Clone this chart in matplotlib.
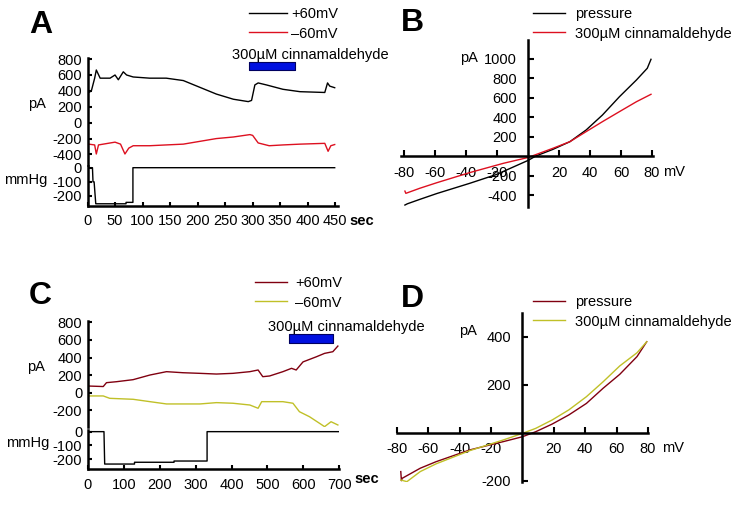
import matplotlib
matplotlib.use('Agg')
import matplotlib.pyplot as plt

plt.rcParams['font.family'] = ['Liberation Sans', 'DejaVu Sans']
plt.rcParams['font.size'] = 10.5
plt.rcParams['axes.unicode_minus'] = False

# --------------------------------------------------
# DATA
# --------------------------------------------------

# A: time course, +60 / -60 mV currents (pA) and pressure (mmHg)
a_t_pos = [0, 7, 13, 16, 23, 41, 50, 56, 65, 71, 83, 113, 143, 174, 204, 234,
           265, 292, 298, 304, 310, 325, 355, 386, 431, 436, 440, 449]
a_pos = [370, 400, 560, 663, 560, 560, 600, 540, 640, 600, 575, 560, 560, 530,
         445, 360, 295, 265, 280, 475, 500, 475, 420, 390, 380, 500, 460, 440]
a_t_neg = [0, 13, 16, 20, 50, 60, 68, 75, 83, 113, 143, 174, 204, 234, 265,
           295, 300, 310, 330, 355, 386, 431, 437, 442, 449]
a_neg = [-268, -280, -394, -280, -245, -270, -394, -320, -290, -290, -280,
         -270, -235, -200, -180, -150, -160, -255, -290, -280, -270, -260,
         -360, -290, -275]
a_t_p = [0, 9, 10, 12, 15, 70, 70, 82.5, 82.5, 449]
a_p = [0, 0, -100, -100, -255, -255, -245, -245, 0, 0]
a_cinn = (294, 376)

# C: time course
c_t_pos = [0, 43, 52, 80, 126, 173, 219, 265, 312, 358, 404, 451, 474, 487,
           506, 543, 567, 580, 599, 636, 659, 682, 696]
c_pos = [76, 70, 114, 125, 148, 201, 239, 227, 220, 212, 220, 239, 258, 182,
         190, 239, 277, 258, 350, 408, 447, 466, 530]
c_t_neg = [0, 43, 61, 126, 173, 219, 265, 312, 358, 404, 451, 474, 484, 543,
           571, 589, 617, 645, 659, 677, 696]
c_neg = [-37, -37, -64, -75, -102, -128, -128, -128, -113, -120, -140, -177,
         -102, -102, -120, -216, -273, -348, -386, -330, -367]
c_t_p = [0, 45, 47, 130, 130, 240, 240, 332, 332, 700]
c_p = [0, 0, -236, -236, -223, -223, -214, -214, 0, 0]
c_cinn = (559, 682)

# B: I-V curves
b_v_press = [-79.6, -78, -70, -59, -37.7, -20.5, 0, 5, 16, 27, 37.5, 48, 59,
             70, 77, 79.4]
b_press = [-503, -490, -445, -385, -280, -190, -45, 0, 68, 147, 267, 420, 608,
           780, 900, 992]
b_v_cinn = [-79.6, -79, -70, -59, -37.7, -16, 0, 16, 27, 37.5, 48, 59, 70, 79.4]
b_cinn = [-360, -383, -331, -274, -170, -75, -15, 79, 147, 250, 352, 455, 557,
          633]

# D: I-V curves
d_v_press = [-77.4, -77, -76.5, -65, -55, -33.6, -12, 0, 8.5, 19, 29.6, 40.8,
             51.4, 62, 73, 79.2]
d_press = [-162, -200, -190, -148, -121, -72, -37, -17, 4, 36, 74, 122, 185,
           243, 317, 379]
d_v_cinn = [-77.4, -73.5, -65, -55, -33.6, -12, 0, 8.5, 19, 29.6, 40.8, 51.4,
            62, 73, 79.2]
d_cinn = [-197, -204, -162, -130, -75, -30, -3, 18, 53, 95, 150, 212, 278,
          333, 379]

RED = '#dd1020'
DARKRED = '#800010'
YELLOW = '#c0c028'
BLUE = '#0010e0'

# --------------------------------------------------
# FIGURE
# --------------------------------------------------

W, H = 742, 509
fig = plt.figure(figsize=(W / 100, H / 100), dpi=100)


def px_axes(l, t, r, b):
    return fig.add_axes([l / W, 1 - b / H, (r - l) / W, (b - t) / H])


def style_time_axes(ax_i, ax_p):
    for s in ['top', 'right', 'bottom']:
        ax_i.spines[s].set_visible(False)
    ax_i.spines['left'].set_linewidth(1.8)
    ax_i.tick_params(axis='x', bottom=False, labelbottom=False)
    ax_i.tick_params(axis='y', direction='in', length=3, width=1.5, pad=4)
    ax_i.patch.set_alpha(0)
    for s in ['top', 'right']:
        ax_p.spines[s].set_visible(False)
    ax_p.spines['left'].set_linewidth(1.8)
    ax_p.spines['bottom'].set_linewidth(1.8)
    ax_p.tick_params(direction='in', length=3, width=1.5)
    ax_p.tick_params(axis='y', pad=4)
    ax_p.tick_params(axis='x', pad=6)
    ax_p.patch.set_alpha(0)


def style_iv_axes(ax):
    for s in ['top', 'right']:
        ax.spines[s].set_visible(False)
    ax.spines['left'].set_position(('data', 0))
    ax.spines['bottom'].set_position(('data', 0))
    ax.spines['left'].set_linewidth(1.8)
    ax.spines['bottom'].set_linewidth(1.8)
    ax.tick_params(direction='in', length=4, width=1.5)
    ax.tick_params(axis='x', pad=7)
    ax.tick_params(axis='y', pad=8)
    ax.patch.set_alpha(0)


def legend(ax, handles, labels, x, y, hl, tp):
    ax.legend(handles, labels, loc='upper left',
              bbox_to_anchor=(x / W, 1 - y / H), bbox_transform=fig.transFigure,
              frameon=False, borderpad=0, borderaxespad=0, handlelength=hl,
              handletextpad=tp, labelspacing=0.38, fontsize=10.5)


# ---------------- A ----------------
axA = px_axes(87.5, 58.3, 338, 165.2)
axAp = px_axes(87.5, 166, 338, 205.9)
lA1, = axA.plot(a_t_pos, a_pos, color='black', lw=1)
lA2, = axA.plot(a_t_neg, a_neg, color=RED, lw=1)
axA.broken_barh([(a_cinn[0], a_cinn[1] - a_cinn[0])], (665, 100),
                facecolors=BLUE, edgecolors='#000060', lw=0.8)
axA.text(a_cinn[0] - 31, 850, '300\u00b5M cinnamaldehyde', va='center',
         ha='left', clip_on=False)
axA.set_xlim(0, 455)
axA.set_ylim(-535, 810)
axA.set_yticks([800, 600, 400, 200, 0, -200, -400])
axAp.plot(a_t_p, a_p, color='black', lw=1)
axAp.set_xlim(0, 455)
axAp.set_ylim(-270, 12)
axAp.set_yticks([0, -100, -200])
axAp.set_xticks(range(0, 451, 50))
style_time_axes(axA, axAp)
legend(axA, [lA1, lA2], ['+60mV', '\u201360mV'], 249, 7, 2.6, 0.3)
fig.text(28 / W, 1 - 104 / H, 'pA', va='center', ha='left')
fig.text(4 / W, 1 - 180 / H, 'mmHg', va='center', ha='left')
fig.text(349 / W, 1 - 221 / H, 'sec', va='center', ha='left',
         fontweight='bold')

# ---------------- C ----------------
axC = px_axes(87.8, 321, 339.3, 427)
axCp = px_axes(87.8, 430, 339.3, 469.4)
lC1, = axC.plot(c_t_pos, c_pos, color=DARKRED, lw=1)
lC2, = axC.plot(c_t_neg, c_neg, color=YELLOW, lw=1)
axC.broken_barh([(c_cinn[0], c_cinn[1] - c_cinn[0])], (560, 105),
                facecolors=BLUE, edgecolors='#000060', lw=0.8)
axC.text(c_cinn[0] - 58, 750, '300\u00b5M cinnamaldehyde', va='center',
         ha='left', clip_on=False)
axC.set_xlim(0, 700)
axC.set_ylim(-390, 815)
axC.set_yticks([800, 600, 400, 200, 0, -200])
axCp.plot(c_t_p, c_p, color='black', lw=1)
axCp.set_xlim(0, 700)
axCp.set_ylim(-275, 12)
axCp.set_yticks([0, -100, -200])
axCp.set_xticks(range(0, 701, 100))
style_time_axes(axC, axCp)
legend(axC, [lC1, lC2], ['+60mV', '\u201360mV'], 255, 276, 2.2, 0.55)
fig.text(27 / W, 1 - 367 / H, 'pA', va='center', ha='left')
fig.text(6 / W, 1 - 443 / H, 'mmHg', va='center', ha='left')
fig.text(354 / W, 1 - 479 / H, 'sec', va='center', ha='left',
         fontweight='bold')

# ---------------- B ----------------
axB = px_axes(401.2, 40, 652.7, 206.7)
lB1, = axB.plot(b_v_press, b_press, color='black', lw=1)
lB2, = axB.plot(b_v_cinn, b_cinn, color=RED, lw=1)
axB.set_xlim(-82, 80.5)
axB.set_ylim(-520, 1190)
axB.set_xticks([-80, -60, -40, -20, 20, 40, 60, 80])
axB.set_yticks([-400, -200, 200, 400, 600, 800, 1000])
style_iv_axes(axB)
legend(axB, [lB1, lB2], ['pressure', '300\u00b5M cinnamaldehyde'],
       533, 7, 2.2, 0.7)
fig.text(460 / W, 1 - 58 / H, 'pA', va='center', ha='left')
fig.text(663 / W, 1 - 172 / H, 'mV', va='center', ha='left')

# ---------------- D ----------------
axD = px_axes(396.7, 313.4, 648.3, 481.9)
lD1, = axD.plot(d_v_press, d_press, color=DARKRED, lw=1)
lD2, = axD.plot(d_v_cinn, d_cinn, color=YELLOW, lw=1)
axD.set_xlim(-80, 80.2)
axD.set_ylim(-205, 497)
axD.set_xticks([-80, -60, -40, -20, 20, 40, 60, 80])
axD.set_yticks([-200, 200, 400])
style_iv_axes(axD)
legend(axD, [lD1, lD2], ['pressure', '300\u00b5M cinnamaldehyde'],
       533, 295, 2.2, 0.7)
fig.text(459 / W, 1 - 331 / H, 'pA', va='center', ha='left')
fig.text(662 / W, 1 - 448 / H, 'mV', va='center', ha='left')

# ---------------- panel letters ----------------
for letter, x, yb in [('A', 29, 33), ('B', 401, 31), ('C', 29, 304),
                      ('D', 401, 307)]:
    fig.text(x / W, 1 - yb / H, letter, fontsize=23, fontweight='bold',
             va='baseline', ha='left')

fig.savefig('out.png', dpi=100)
